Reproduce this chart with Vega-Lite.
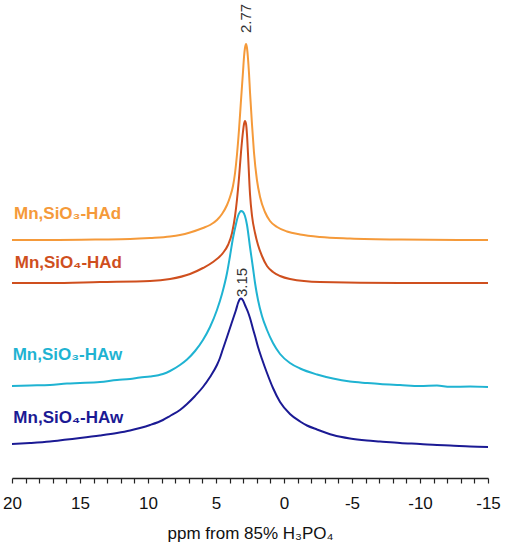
{
  "$schema": "https://vega.github.io/schema/vega-lite/v6.json",
  "width": 476,
  "height": 478,
  "autosize": {"type": "none"},
  "padding": {"left": 12, "right": 17, "top": 0, "bottom": 72},
  "background": "white",
  "config": {
    "view": {"stroke": null},
    "font": "Liberation Sans",
    "axis": {"grid": false}
  },
  "datasets": {
    "spectra": [
      {"series":"Mn,SiO3-HAd","ppm":20.00,"intensity":238},{"series":"Mn,SiO3-HAd","ppm":17.21,"intensity":238},{"series":"Mn,SiO3-HAd","ppm":13.53,"intensity":238.5},{"series":"Mn,SiO3-HAd","ppm":11.32,"intensity":239},{"series":"Mn,SiO3-HAd","ppm":9.85,"intensity":240},{"series":"Mn,SiO3-HAd","ppm":8.38,"intensity":241.5},{"series":"Mn,SiO3-HAd","ppm":7.65,"intensity":243},{"series":"Mn,SiO3-HAd","ppm":6.91,"intensity":245.5},{"series":"Mn,SiO3-HAd","ppm":5.96,"intensity":250},{"series":"Mn,SiO3-HAd","ppm":5.44,"intensity":253},{"series":"Mn,SiO3-HAd","ppm":4.93,"intensity":258},{"series":"Mn,SiO3-HAd","ppm":4.56,"intensity":264},{"series":"Mn,SiO3-HAd","ppm":4.19,"intensity":273},{"series":"Mn,SiO3-HAd","ppm":3.97,"intensity":281},{"series":"Mn,SiO3-HAd","ppm":3.75,"intensity":292},{"series":"Mn,SiO3-HAd","ppm":3.60,"intensity":305},{"series":"Mn,SiO3-HAd","ppm":3.46,"intensity":323},{"series":"Mn,SiO3-HAd","ppm":3.31,"intensity":348},{"series":"Mn,SiO3-HAd","ppm":3.16,"intensity":378},{"series":"Mn,SiO3-HAd","ppm":3.01,"intensity":407},{"series":"Mn,SiO3-HAd","ppm":2.94,"intensity":421},{"series":"Mn,SiO3-HAd","ppm":2.87,"intensity":430},{"series":"Mn,SiO3-HAd","ppm":2.79,"intensity":434},{"series":"Mn,SiO3-HAd","ppm":2.72,"intensity":430},{"series":"Mn,SiO3-HAd","ppm":2.65,"intensity":420},{"series":"Mn,SiO3-HAd","ppm":2.57,"intensity":404},{"series":"Mn,SiO3-HAd","ppm":2.50,"intensity":386},{"series":"Mn,SiO3-HAd","ppm":2.35,"intensity":353},{"series":"Mn,SiO3-HAd","ppm":2.21,"intensity":326},{"series":"Mn,SiO3-HAd","ppm":1.99,"intensity":298},{"series":"Mn,SiO3-HAd","ppm":1.76,"intensity":281},{"series":"Mn,SiO3-HAd","ppm":1.40,"intensity":266},{"series":"Mn,SiO3-HAd","ppm":1.03,"intensity":257},{"series":"Mn,SiO3-HAd","ppm":0.51,"intensity":251},{"series":"Mn,SiO3-HAd","ppm":-0.22,"intensity":246.5},{"series":"Mn,SiO3-HAd","ppm":-1.18,"intensity":243.5},{"series":"Mn,SiO3-HAd","ppm":-2.65,"intensity":241},{"series":"Mn,SiO3-HAd","ppm":-4.85,"intensity":239.5},{"series":"Mn,SiO3-HAd","ppm":-8.53,"intensity":238.5},{"series":"Mn,SiO3-HAd","ppm":-15.00,"intensity":238},

      {"series":"Mn,SiO4-HAd","ppm":20.00,"intensity":195},{"series":"Mn,SiO4-HAd","ppm":17.21,"intensity":195},{"series":"Mn,SiO4-HAd","ppm":13.53,"intensity":196},{"series":"Mn,SiO4-HAd","ppm":9.85,"intensity":197},{"series":"Mn,SiO4-HAd","ppm":8.38,"intensity":199},{"series":"Mn,SiO4-HAd","ppm":6.91,"intensity":204},{"series":"Mn,SiO4-HAd","ppm":5.96,"intensity":210},{"series":"Mn,SiO4-HAd","ppm":5.22,"intensity":216},{"series":"Mn,SiO4-HAd","ppm":4.49,"intensity":225},{"series":"Mn,SiO4-HAd","ppm":4.12,"intensity":233},{"series":"Mn,SiO4-HAd","ppm":3.82,"intensity":245},{"series":"Mn,SiO4-HAd","ppm":3.60,"intensity":262},{"series":"Mn,SiO4-HAd","ppm":3.46,"intensity":278},{"series":"Mn,SiO4-HAd","ppm":3.31,"intensity":300},{"series":"Mn,SiO4-HAd","ppm":3.16,"intensity":326},{"series":"Mn,SiO4-HAd","ppm":3.01,"intensity":347},{"series":"Mn,SiO4-HAd","ppm":2.94,"intensity":354},{"series":"Mn,SiO4-HAd","ppm":2.87,"intensity":357},{"series":"Mn,SiO4-HAd","ppm":2.79,"intensity":354},{"series":"Mn,SiO4-HAd","ppm":2.72,"intensity":343},{"series":"Mn,SiO4-HAd","ppm":2.65,"intensity":325},{"series":"Mn,SiO4-HAd","ppm":2.50,"intensity":284},{"series":"Mn,SiO4-HAd","ppm":2.35,"intensity":262},{"series":"Mn,SiO4-HAd","ppm":2.13,"intensity":245},{"series":"Mn,SiO4-HAd","ppm":1.91,"intensity":233},{"series":"Mn,SiO4-HAd","ppm":1.62,"intensity":222},{"series":"Mn,SiO4-HAd","ppm":1.25,"intensity":212},{"series":"Mn,SiO4-HAd","ppm":0.81,"intensity":206},{"series":"Mn,SiO4-HAd","ppm":0.29,"intensity":202},{"series":"Mn,SiO4-HAd","ppm":-0.44,"intensity":199},{"series":"Mn,SiO4-HAd","ppm":-2.65,"intensity":196},{"series":"Mn,SiO4-HAd","ppm":-8.53,"intensity":195},{"series":"Mn,SiO4-HAd","ppm":-15.00,"intensity":195},

      {"series":"Mn,SiO3-HAw","ppm":20.00,"intensity":92},{"series":"Mn,SiO3-HAw","ppm":18.68,"intensity":92.5},{"series":"Mn,SiO3-HAw","ppm":17.21,"intensity":93},{"series":"Mn,SiO3-HAw","ppm":15.96,"intensity":94.5},{"series":"Mn,SiO3-HAw","ppm":15.00,"intensity":95},{"series":"Mn,SiO3-HAw","ppm":13.53,"intensity":96},{"series":"Mn,SiO3-HAw","ppm":12.28,"intensity":98},{"series":"Mn,SiO3-HAw","ppm":11.32,"intensity":99},{"series":"Mn,SiO3-HAw","ppm":10.59,"intensity":100.5},{"series":"Mn,SiO3-HAw","ppm":9.85,"intensity":101.5},{"series":"Mn,SiO3-HAw","ppm":8.90,"intensity":104},{"series":"Mn,SiO3-HAw","ppm":8.38,"intensity":107},{"series":"Mn,SiO3-HAw","ppm":7.65,"intensity":113},{"series":"Mn,SiO3-HAw","ppm":7.13,"intensity":118.5},{"series":"Mn,SiO3-HAw","ppm":6.54,"intensity":127},{"series":"Mn,SiO3-HAw","ppm":5.96,"intensity":138},{"series":"Mn,SiO3-HAw","ppm":5.44,"intensity":151},{"series":"Mn,SiO3-HAw","ppm":4.93,"intensity":168},{"series":"Mn,SiO3-HAw","ppm":4.56,"intensity":184},{"series":"Mn,SiO3-HAw","ppm":4.19,"intensity":205},{"series":"Mn,SiO3-HAw","ppm":3.97,"intensity":222},{"series":"Mn,SiO3-HAw","ppm":3.75,"intensity":240},{"series":"Mn,SiO3-HAw","ppm":3.53,"intensity":254},{"series":"Mn,SiO3-HAw","ppm":3.38,"intensity":262},{"series":"Mn,SiO3-HAw","ppm":3.24,"intensity":266},{"series":"Mn,SiO3-HAw","ppm":3.16,"intensity":267},{"series":"Mn,SiO3-HAw","ppm":3.01,"intensity":266},{"series":"Mn,SiO3-HAw","ppm":2.87,"intensity":262},{"series":"Mn,SiO3-HAw","ppm":2.72,"intensity":253},{"series":"Mn,SiO3-HAw","ppm":2.50,"intensity":231},{"series":"Mn,SiO3-HAw","ppm":2.28,"intensity":210},{"series":"Mn,SiO3-HAw","ppm":2.13,"intensity":195},{"series":"Mn,SiO3-HAw","ppm":1.91,"intensity":178},{"series":"Mn,SiO3-HAw","ppm":1.62,"intensity":162},{"series":"Mn,SiO3-HAw","ppm":1.25,"intensity":148},{"series":"Mn,SiO3-HAw","ppm":0.81,"intensity":135},{"series":"Mn,SiO3-HAw","ppm":0.29,"intensity":124},{"series":"Mn,SiO3-HAw","ppm":-0.44,"intensity":115},{"series":"Mn,SiO3-HAw","ppm":-1.18,"intensity":109.5},{"series":"Mn,SiO3-HAw","ppm":-2.43,"intensity":103.5},{"series":"Mn,SiO3-HAw","ppm":-3.60,"intensity":99.5},{"series":"Mn,SiO3-HAw","ppm":-4.85,"intensity":96.5},{"series":"Mn,SiO3-HAw","ppm":-6.10,"intensity":95},{"series":"Mn,SiO3-HAw","ppm":-7.06,"intensity":94},{"series":"Mn,SiO3-HAw","ppm":-8.53,"intensity":93},{"series":"Mn,SiO3-HAw","ppm":-10.00,"intensity":92},{"series":"Mn,SiO3-HAw","ppm":-11.25,"intensity":92.5},{"series":"Mn,SiO3-HAw","ppm":-12.21,"intensity":91.2},{"series":"Mn,SiO3-HAw","ppm":-13.68,"intensity":91.5},{"series":"Mn,SiO3-HAw","ppm":-15.00,"intensity":91},

      {"series":"Mn,SiO4-HAw","ppm":20.00,"intensity":34},{"series":"Mn,SiO4-HAw","ppm":18.68,"intensity":35},{"series":"Mn,SiO4-HAw","ppm":17.21,"intensity":36.5},{"series":"Mn,SiO4-HAw","ppm":15.96,"intensity":38.5},{"series":"Mn,SiO4-HAw","ppm":15.00,"intensity":40},{"series":"Mn,SiO4-HAw","ppm":13.53,"intensity":42.5},{"series":"Mn,SiO4-HAw","ppm":12.28,"intensity":45},{"series":"Mn,SiO4-HAw","ppm":11.32,"intensity":47.5},{"series":"Mn,SiO4-HAw","ppm":10.59,"intensity":50},{"series":"Mn,SiO4-HAw","ppm":9.85,"intensity":53},{"series":"Mn,SiO4-HAw","ppm":8.90,"intensity":58},{"series":"Mn,SiO4-HAw","ppm":8.38,"intensity":62},{"series":"Mn,SiO4-HAw","ppm":7.65,"intensity":68},{"series":"Mn,SiO4-HAw","ppm":7.13,"intensity":74},{"series":"Mn,SiO4-HAw","ppm":6.54,"intensity":82},{"series":"Mn,SiO4-HAw","ppm":5.96,"intensity":91},{"series":"Mn,SiO4-HAw","ppm":5.44,"intensity":101},{"series":"Mn,SiO4-HAw","ppm":4.93,"intensity":113},{"series":"Mn,SiO4-HAw","ppm":4.71,"intensity":120},{"series":"Mn,SiO4-HAw","ppm":4.49,"intensity":129},{"series":"Mn,SiO4-HAw","ppm":4.19,"intensity":141},{"series":"Mn,SiO4-HAw","ppm":3.97,"intensity":150},{"series":"Mn,SiO4-HAw","ppm":3.75,"intensity":159},{"series":"Mn,SiO4-HAw","ppm":3.53,"intensity":168},{"series":"Mn,SiO4-HAw","ppm":3.38,"intensity":175},{"series":"Mn,SiO4-HAw","ppm":3.24,"intensity":179},{"series":"Mn,SiO4-HAw","ppm":3.16,"intensity":179.5},{"series":"Mn,SiO4-HAw","ppm":3.01,"intensity":177.5},{"series":"Mn,SiO4-HAw","ppm":2.87,"intensity":173},{"series":"Mn,SiO4-HAw","ppm":2.65,"intensity":166},{"series":"Mn,SiO4-HAw","ppm":2.50,"intensity":160},{"series":"Mn,SiO4-HAw","ppm":2.28,"intensity":149},{"series":"Mn,SiO4-HAw","ppm":2.13,"intensity":142},{"series":"Mn,SiO4-HAw","ppm":1.91,"intensity":131},{"series":"Mn,SiO4-HAw","ppm":1.62,"intensity":119},{"series":"Mn,SiO4-HAw","ppm":1.25,"intensity":105},{"series":"Mn,SiO4-HAw","ppm":0.81,"intensity":90},{"series":"Mn,SiO4-HAw","ppm":0.29,"intensity":76},{"series":"Mn,SiO4-HAw","ppm":-0.44,"intensity":64},{"series":"Mn,SiO4-HAw","ppm":-1.18,"intensity":56.5},{"series":"Mn,SiO4-HAw","ppm":-1.69,"intensity":52.5},{"series":"Mn,SiO4-HAw","ppm":-2.43,"intensity":48.5},{"series":"Mn,SiO4-HAw","ppm":-3.60,"intensity":43},{"series":"Mn,SiO4-HAw","ppm":-4.85,"intensity":39.5},{"series":"Mn,SiO4-HAw","ppm":-6.10,"intensity":37.5},{"series":"Mn,SiO4-HAw","ppm":-7.06,"intensity":36.5},{"series":"Mn,SiO4-HAw","ppm":-8.53,"intensity":35},{"series":"Mn,SiO4-HAw","ppm":-10.00,"intensity":34},{"series":"Mn,SiO4-HAw","ppm":-11.25,"intensity":33},{"series":"Mn,SiO4-HAw","ppm":-12.21,"intensity":32.5},{"series":"Mn,SiO4-HAw","ppm":-13.68,"intensity":31.5},{"series":"Mn,SiO4-HAw","ppm":-15.00,"intensity":31}
    ],
    "labels": [
      {"series":"Mn,SiO3-HAd","ppm":19.85,"intensity":259,"text":"Mn,SiO₃-HAd"},
      {"series":"Mn,SiO4-HAd","ppm":19.8,"intensity":210,"text":"Mn,SiO₄-HAd"},
      {"series":"Mn,SiO3-HAw","ppm":19.95,"intensity":118,"text":"Mn,SiO₃-HAw"},
      {"series":"Mn,SiO4-HAw","ppm":19.9,"intensity":55,"text":"Mn,SiO₄-HAw"}
    ],
    "peaks": [
      {"ppm":2.79,"intensity":445,"text":"2.77"},
      {"ppm":3.09,"intensity":181,"text":"3.15"}
    ]
  },
  "layer": [
    {
      "data": {"name": "spectra"},
      "mark": {"type": "line", "strokeWidth": 2, "interpolate": "monotone"},
      "encoding": {
        "x": {
          "field": "ppm", "type": "quantitative",
          "scale": {"domain": [-15, 20], "reverse": true, "nice": false, "zero": false},
          "axis": {
            "values": [-15,-14,-13,-12,-11,-10,-9,-8,-7,-6,-5,-4,-3,-2,-1,0,1,2,3,4,5,6,7,8,9,10,11,12,13,14,15,16,17,18,19,20],
            "tickCount": 100,
            "labelExpr": "datum.value % 5 === 0 ? '' + datum.value : ''",
            "labelOverlap": false,
            "labelFlush": false,
            "labelFontSize": 17,
            "labelColor": "#111",
            "labelPadding": 12,
            "tickSize": 5,
            "tickWidth": 1.2,
            "tickColor": "#222",
            "domainColor": "#222",
            "domainWidth": 1.5,
            "title": "ppm from 85% H₃PO₄",
            "titleFontSize": 17,
            "titleFontWeight": "normal",
            "titleColor": "#111",
            "titlePadding": 14
          }
        },
        "y": {
          "field": "intensity", "type": "quantitative",
          "scale": {"domain": [0, 478], "nice": false, "zero": false},
          "axis": null
        },
        "color": {
          "field": "series", "type": "nominal",
          "scale": {
            "domain": ["Mn,SiO3-HAd", "Mn,SiO4-HAd", "Mn,SiO3-HAw", "Mn,SiO4-HAw"],
            "range": ["#F59A3A", "#CF4F1E", "#1FB3D2", "#1B1A94"]
          },
          "legend": null
        },
        "order": {"field": "ppm", "sort": "descending"}
      }
    },
    {
      "data": {"name": "labels"},
      "mark": {"type": "text", "align": "left", "baseline": "alphabetic", "fontSize": 17, "fontWeight": "bold"},
      "encoding": {
        "x": {"field": "ppm", "type": "quantitative"},
        "y": {"field": "intensity", "type": "quantitative"},
        "text": {"field": "text"},
        "color": {"field": "series", "type": "nominal", "legend": null}
      }
    },
    {
      "data": {"name": "peaks"},
      "mark": {"type": "text", "align": "left", "baseline": "middle", "angle": 270, "fontSize": 15, "color": "#333"},
      "encoding": {
        "x": {"field": "ppm", "type": "quantitative"},
        "y": {"field": "intensity", "type": "quantitative"},
        "text": {"field": "text"}
      }
    }
  ]
}
